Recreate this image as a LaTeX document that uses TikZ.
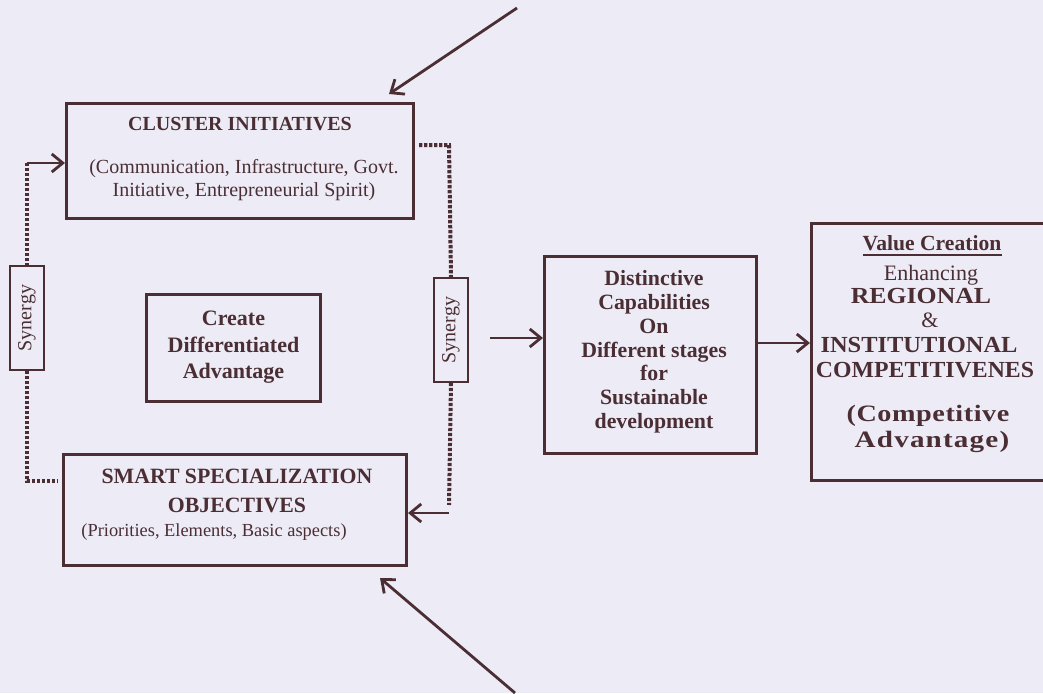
\documentclass[tikz,border=0pt]{standalone}
\usepackage{graphicx}
\usepackage{fontspec}
\setmainfont{Liberation Serif}
\usetikzlibrary{arrows.meta,calc}
\definecolor{ink}{RGB}{74,46,52}
\definecolor{bg}{RGB}{237,236,246}
\newcommand{\fs}[2]{\fontsize{#1}{#2}\selectfont}
\newcommand{\wide}[2]{\scalebox{#1}[1]{#2}}
\begin{document}
\begin{tikzpicture}[x=1pt,y=-1pt,
  box/.style={draw=ink, line width=3pt, minimum width=#1, inner sep=0pt},
  synbox/.style={draw=ink, line width=1.6pt, minimum width=104pt, minimum height=34pt, inner sep=0pt, text=ink, font=\fs{20}{24}},
  txt/.style={anchor=base, inner sep=0pt, text=ink},
  arr/.style={draw=ink, line width=2.8pt, -{Straight Barb[length=11pt,width=18pt]}},
  dots/.style={draw=ink, line width=4pt, dash pattern=on 3.4pt off 1.6pt}
]
\useasboundingbox (0,0) rectangle (1043,693);
\clip (0,0) rectangle (1043,693);
\fill[bg] (0,0) rectangle (1043,693);

% boxes
\node[box=347pt, minimum height=115pt] (cluster) at (240,161) {};
\node[box=174pt, minimum height=107pt] (create) at (233.5,348) {};
\node[box=343pt, minimum height=111pt] (smart) at (235,510) {};
\node[box=212pt, minimum height=197pt] (dist) at (650.5,355) {};
\node[box=243pt, minimum height=257pt] (value) at (933,352) {};
\node[synbox, rotate=90] (sl) at (27,318) {Synergy};
\node[synbox, rotate=90] (sr) at (451,330) {Synergy};

% texts: cluster
\node[txt, font=\bfseries\fs{20}{24}] (c1) at (240,130) {CLUSTER INITIATIVES};
\node[txt, font=\fs{20}{24}] (c2) at (244,173) {(Communication, Infrastructure, Govt.};
\node[txt, font=\fs{20}{24}] (c3) at (244,196) {Initiative, Entrepreneurial Spirit)};
% create
\node[txt, font=\bfseries\fs{22}{26}] (d1) at (233.5,325) {Create};
\node[txt, font=\bfseries\fs{22}{26}] (d2) at (233.5,352) {Differentiated};
\node[txt, font=\bfseries\fs{22}{26}] (d3) at (233.5,378) {Advantage};
% smart
\node[txt, font=\bfseries\fs{21.8}{26}] (s1) at (237,483) {SMART SPECIALIZATION};
\node[txt, font=\bfseries\fs{21.8}{26}] (s2) at (237,512) {OBJECTIVES};
\node[txt, font=\fs{18.4}{22}] (s3) at (214,536) {(Priorities, Elements, Basic aspects)};
% distinctive
\node[txt, font=\bfseries\fs{21.8}{24}] (e1) at (654,285) {Distinctive};
\node[txt, font=\bfseries\fs{21.8}{24}] (e2) at (654,309) {Capabilities};
\node[txt, font=\bfseries\fs{21.8}{24}] (e3) at (654,333) {On};
\node[txt, font=\bfseries\fs{21.8}{24}] (e4) at (654,357) {Different stages};
\node[txt, font=\bfseries\fs{21.8}{24}] (e5) at (654,380) {for};
\node[txt, font=\bfseries\fs{21.8}{24}] (e6) at (654,404) {Sustainable};
\node[txt, font=\bfseries\fs{21.8}{24}] (e7) at (654,428) {development};
% value
\node[txt, font=\bfseries\fs{21.6}{26}] (v1) at (932,250) {Value Creation};
\draw[ink, line width=1.8pt] ($(v1.base west)+(0,5)$) -- ($(v1.base east)+(0,5)$);
\node[txt, font=\fs{22}{26}] (v2) at (931,280) {Enhancing};
\node[txt, font=\bfseries\fs{23}{26}] (v3) at (921,303) {\wide{1.12}{REGIONAL}};
\node[txt, font=\fs{22}{26}] (v4) at (930,327) {\&};
\node[txt, font=\bfseries\fs{23}{26}] (v5) at (919,352) {\wide{1.063}{INSTITUTIONAL}};
\node[txt, font=\bfseries\fs{23}{26}] (v6) at (925,377) {\wide{1.034}{COMPETITIVENES}};
\node[txt, font=\bfseries\fs{23.5}{26}\addfontfeature{LetterSpace=2}] (v7) at (928,421) {\wide{1.2}{(Competitive}};
\node[txt, font=\bfseries\fs{23.5}{26}\addfontfeature{LetterSpace=4}] (v8) at (932,447) {\wide{1.24}{Advantage)}};

% connectors
\coordinate (l1) at (27,163);
\coordinate (l3) at (58,481);
\draw[arr] (l1) -- (l1 -| cluster.west);
\draw[dots] (l1) -- (sl.east);
\draw[dots] (sl.west) |- (l3);

\coordinate (r1) at (449,145);
\coordinate (r2) at (449,505);
\coordinate (r3) at (449,513);
\draw[dots, shorten <=4pt] (cluster.east |- r1) -- (r1) -- (sr.east);
\draw[dots] (sr.west) -- (r2);
\draw[arr] (r3) -- (r3 -| smart.east);

\coordinate (s0) at (490,338);
\draw[arr] (s0) -- (s0 -| dist.west);
\coordinate (v0) at (758,343);
\draw[arr] (dist.east |- v0) -- (value.west |- v0);

\coordinate (t0) at (517,8);
\coordinate (t1) at ($(cluster.north east)+(-26,-8)$);
\draw[arr] (t0) -- (t1);
\coordinate (b0) at (515,693);
\coordinate (b1) at ($(smart.south east)+(-28,11)$);
\draw[arr] (b0) -- (b1);
\end{tikzpicture}
\end{document}
